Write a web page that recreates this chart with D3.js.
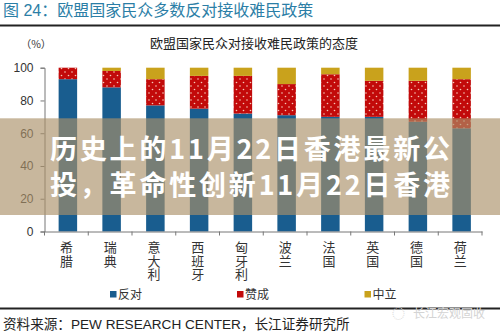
<!DOCTYPE html>
<html><head><meta charset="utf-8">
<script src="https://cdn.jsdelivr.net/npm/d3@7"></script>
<style>
html,body{margin:0;padding:0;background:#fff;}
svg{display:block;font-family:"Liberation Sans","Noto Sans CJK SC",sans-serif;}
</style></head>
<body><svg id="c" width="500" height="335"></svg>
<script>
const countries = ["希腊","瑞典","意大利","西班牙","匈牙利","波兰","法国","英国","德国","荷兰"];
const oppose  = [93, 88, 77, 75, 72, 71, 70, 70, 67, 63];
const support = [7, 10, 16, 20, 23, 19, 26, 22, 25, 30];
const neutral = [0, 2, 7, 5, 5, 10, 4, 8, 8, 7];
const yTicks = [0, 20, 40, 60, 80, 100];
const seriesNames = ["反对","赞成","中立"];
const titleText = "图 24：欧盟国家民众多数反对接收难民政策";
const subTitle = "欧盟国家民众对接收难民政策的态度";
const sourceText = "资料来源：PEW RESEARCH CENTER，长江证券研究所";
const overlayLines = ["历史上的11月22日香港最新公","投，革命性创新11月22日香港"];

const colors = {"反对":"#195d8f","赞成":"#c20a0a","中立":"#c9a21c"};
const svg = d3.select("#c");
const defs = svg.append("defs");
const pat = defs.append("pattern").attr("id","dots").attr("patternUnits","userSpaceOnUse")
  .attr("width",7).attr("height",7);
pat.append("rect").attr("width",7).attr("height",7).attr("fill",colors["赞成"]);
pat.append("circle").attr("cx",2).attr("cy",2).attr("r",0.8).attr("fill","#f6c9b8");
pat.append("circle").attr("cx",5.5).attr("cy",5.5).attr("r",0.8).attr("fill","#f6c9b8");

// title
svg.append("text").attr("x",3).attr("y",16).attr("font-size",16)
  .attr("font-family","'Liberation Sans','Noto Sans CJK SC',sans-serif").attr("fill","#2b7ea6").text(titleText);
svg.append("line").attr("x1",0).attr("x2",500).attr("y1",25.5).attr("y2",25.5)
  .attr("stroke","#222").attr("stroke-width",2);
svg.append("text").attr("x",254).attr("y",48).attr("text-anchor","middle").attr("font-size",13)
  .attr("font-family","'Noto Sans CJK SC',sans-serif").attr("fill","#222").text(subTitle);
svg.append("text").attr("x",36).attr("y",48).attr("text-anchor","middle").attr("font-size",10.5)
  .attr("font-family","'Noto Sans CJK SC',sans-serif").attr("fill","#333").text("（%）");

const x = d3.scaleBand().domain(countries).range([44.5, 482]).padding(0);
const y = d3.scaleLinear().domain([0,100]).range([231.5, 67.7]);

const data = countries.map((c,i)=>({c, "反对":oppose[i], "赞成":support[i], "中立":neutral[i]}));
const stack = d3.stack().keys(seriesNames)(data);
const bw = 18.5;
const off = 1.5;

stack.forEach(s=>{
  svg.append("g").selectAll("rect").data(s).join("rect")
    .attr("x",d=>x(d.data.c)+(x.bandwidth()-bw)/2+off)
    .attr("width",bw)
    .attr("y",d=>y(d[1]))
    .attr("height",d=>Math.max(0,y(d[0])-y(d[1])))
    .attr("fill",s.key==="赞成"?"url(#dots)":colors[s.key]);
});

// y axis
const ya = svg.append("g").attr("transform","translate(44.5,0)")
  .call(d3.axisLeft(y).tickValues(yTicks).tickSize(4).tickPadding(7));
ya.select(".domain").attr("stroke","#777");
ya.selectAll(".tick line").attr("stroke","#777");
ya.selectAll(".tick text").attr("font-size",12).attr("fill","#333")
  .attr("font-family","'Liberation Sans',sans-serif");

// x axis
const xa = svg.append("g").attr("transform","translate(0,231.5)")
  .call(d3.axisBottom(x).tickSize(0).tickFormat(""));
xa.select(".domain").attr("stroke","#777");
xa.selectAll(".tick").remove();
const bounds = countries.map(c=>x(c)).concat([x.range()[1]]);
xa.selectAll("line.tk").data(bounds).join("line").attr("class","tk")
  .attr("x1",d=>d).attr("x2",d=>d).attr("y1",0).attr("y2",4).attr("stroke","#777");

// vertical labels
svg.append("g").selectAll("text").data(countries).join("text")
  .attr("x",c=>x(c)+x.bandwidth()/2).attr("y",241)
  .attr("font-size",13).attr("letter-spacing",0.4)
  .style("writing-mode","vertical-rl")
  .attr("font-family","'Noto Sans CJK SC',sans-serif").attr("fill","#333")
  .text(c=>c);

// legend
const legX = [110, 237, 364.5];
seriesNames.forEach((n,i)=>{
  svg.append("rect").attr("x",legX[i]).attr("y",291).attr("width",6.5).attr("height",6.5)
    .attr("fill",colors[n]);
  svg.append("text").attr("x",legX[i]+8).attr("y",299).attr("font-size",12)
    .attr("font-family","'Noto Sans CJK SC',sans-serif").attr("fill","#333").text(n);
});

// bottom line and source
svg.append("line").attr("x1",0).attr("x2",500).attr("y1",308.5).attr("y2",308.5)
  .attr("stroke","#222").attr("stroke-width",2);
svg.append("text").attr("x",392).attr("y",318).attr("font-size",13).attr("fill","#ddd")
  .attr("font-family","'Noto Sans CJK SC',sans-serif").text("◌");
svg.append("text").attr("x",413).attr("y",318).attr("font-size",12).attr("fill","#d4d4d4")
  .attr("font-family","'Noto Sans CJK SC',sans-serif").text("长江宏观固收");
svg.append("text").attr("x",3).attr("y",329).attr("font-size",13.6).attr("fill","#222")
  .attr("font-family","'Liberation Sans','Noto Sans CJK SC',sans-serif").text(sourceText);

// overlay banner
svg.append("rect").attr("x",0).attr("y",118.3).attr("width",500).attr("height",96.7)
  .attr("fill","rgb(170,145,105)").attr("fill-opacity",0.65);
overlayLines.forEach((l,i)=>{
  svg.append("text").attr("x",50).attr("y",159+i*36).attr("font-size",27).attr("font-weight","bold")
    .attr("font-family","'Noto Sans CJK SC',sans-serif").attr("fill","#fff")
    .attr("textLength",400).attr("lengthAdjust","spacing").text(l);
});
</script></body></html>
